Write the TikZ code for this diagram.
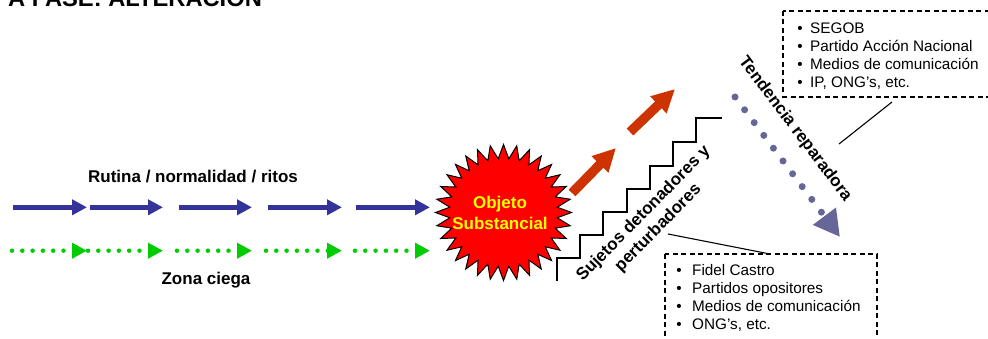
\documentclass[tikz,border=0pt]{standalone}
\usepackage{fontspec}
\setmainfont{Liberation Sans}
\usetikzlibrary{arrows.meta}
\definecolor{arrblue}{HTML}{333399}
\definecolor{arrgreen}{HTML}{00CC00}
\definecolor{arrred}{HTML}{CC3300}
\definecolor{arrpurple}{HTML}{666699}
\definecolor{burstred}{HTML}{FF0000}
\definecolor{burstyellow}{HTML}{FFFF00}
\tikzset{
  lab/.style={font=\fontsize{17}{20.5}\selectfont\bfseries, inner sep=0pt, align=center},
  boxtxt/.style={font=\fontsize{15.3}{18}\selectfont, inner sep=0pt, anchor=base west},
  bul/.style={font=\fontsize{15.3}{18}\selectfont, inner sep=0pt, anchor=base},
  bluearrow/.style={draw=arrblue, line width=5.5pt, -{Triangle[length=15pt,width=15pt]}},
  greenarrow/.style={draw=arrgreen, line width=4.5pt, line cap=round, dash pattern=on 0pt off 10.3pt, -{Triangle[length=15pt,width=15pt]}},
  redarrow/.style={draw=arrred, line width=9.5pt, -{Triangle[length=23pt,width=22pt]}},
  purplearrow/.style={draw=arrpurple, line width=7pt, line cap=round, dash pattern=on 0pt off 16pt, -{Triangle[length=26pt,width=27pt]}},
  burst/.style={draw=black, line width=1pt, fill=burstred, line join=miter},
  stair/.style={draw=black, line width=1.5pt},
  dashbox/.style={draw=black, line width=1.2pt, dash pattern=on 5pt off 3.5pt},
  callout/.style={draw=black, line width=1.1pt}
}
\begin{document}
\begin{tikzpicture}[x=1pt,y=-1pt]
\useasboundingbox (0,0) rectangle (988,339);
\clip (0,0) rectangle (988,339);
\fill[white] (0,0) rectangle (988,339);

% title (cut off by the top edge)
\node[anchor=base west, inner sep=0pt, font=\fontsize{23.7}{28}\selectfont\bfseries] (title) at (8,6.7) {A FASE: ALTERACION};

% routine arrows
\foreach \a/\b [count=\i] in {13/87, 90/163, 179/252, 268/342, 356/430} {
  \coordinate (bs\i) at (\a,207.3);
  \coordinate (be\i) at (\b,207.3);
  \draw[bluearrow] (bs\i) -- (be\i);
}
\foreach \a/\b [count=\i] in {12/87, 88/163, 177/252, 266/342, 355/430} {
  \coordinate (gs\i) at (\a,250.7);
  \coordinate (ge\i) at (\b,250.7);
  \draw[greenarrow] (gs\i) -- (ge\i);
}
\node[lab] (rutina) at (193,177) {Rutina / normalidad / ritos};
\node[lab] (zona) at (206,280) {Zona ciega};

% starburst
\draw[burst, shift={(503.5,212.5)}] plot[samples at={0,...,63}, variable=\k] ({\k*5.625+90}:{68-14*mod(\k,2)}) -- cycle;
\node[lab, text=burstyellow] (obj) at (500,213) {Objeto\\Substancial};

% red arrows
\coordinate (r1s) at (572,193);
\coordinate (r1e) at (616,148);
\coordinate (r2s) at (630,132);
\coordinate (r2e) at (675,89);
\draw[redarrow] (r1s) -- (r1e);
\draw[redarrow] (r2s) -- (r2e);

% staircase
\draw[stair] (557,281) -- (557,258) -- (580,258) -- (580,235) -- (603,235) -- (603,212)
  -- (627,212) -- (627,189) -- (650,189) -- (650,166) -- (673,166) -- (673,142)
  -- (696,142) -- (696,118) -- (722,118);
\node[lab, rotate=45.5] (suj) at (651,221) {Sujetos detonadores y\\perturbadores};

% repairing tendency
\coordinate (ps) at (735,97);
\coordinate (pe) at (840,237);
\draw[purplearrow] (ps) -- (pe);
\node[lab, rotate=-53] (tend) at (795,129) {Tendencia reparadora};

% top box
\draw[dashbox] (783,11) rectangle (1000,97);
\node[bul] (ba1) at (800,33.3) {•};
\node[bul] (ba2) at (800,51.5) {•};
\node[bul] (ba3) at (800,69.7) {•};
\node[bul] (ba4) at (800,87.9) {•};
\node[boxtxt] (ta1) at (810,33.3) {SEGOB};
\node[boxtxt] (ta2) at (810,51.5) {Partido Acción Nacional};
\node[boxtxt] (ta3) at (810,69.7) {Medios de comunicación};
\node[boxtxt] (ta4) at (810,87.9) {IP, ONG’s, etc.};
\coordinate (ca1) at (839,144);
\coordinate (ca2) at (892,102);
\draw[callout] (ca1) -- (ca2);

% bottom box
\draw[dashbox] (665,254) rectangle (877,350);
\node[bul] (bb1) at (679,275) {•};
\node[bul] (bb2) at (679,293) {•};
\node[bul] (bb3) at (679,311) {•};
\node[bul] (bb4) at (679,329) {•};
\node[boxtxt] (tb1) at (692,275) {Fidel Castro};
\node[boxtxt] (tb2) at (692,293) {Partidos opositores};
\node[boxtxt] (tb3) at (692,311) {Medios de comunicación};
\node[boxtxt] (tb4) at (692,329) {ONG’s, etc.};
\coordinate (cb1) at (668,234);
\coordinate (cb2) at (770,254);
\draw[callout] (cb1) -- (cb2);
\end{tikzpicture}
\end{document}
